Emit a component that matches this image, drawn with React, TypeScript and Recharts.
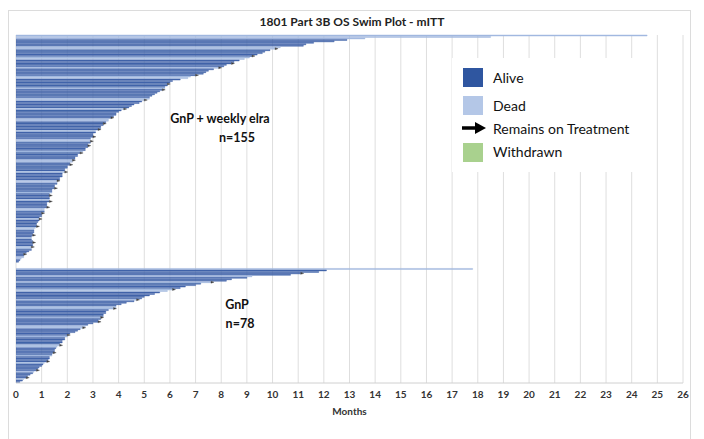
import { BarChart, Bar, XAxis, YAxis, CartesianGrid, Cell, LabelList } from 'recharts';

// months on study, one value per patient (top to bottom)
const gnpElraMonths = [
  24.6, 18.5, 13.6, 12.9, 12.4, 11.6, 11.3, 11.2, 10.3, 10.1,
  9.9, 9.7, 9.6, 9.4, 9.2, 9.1, 8.9, 8.7, 8.5, 8.4,
  8.2, 8.1, 7.9, 7.7, 7.5, 7.4, 7.3, 7.0, 6.8, 6.7,
  6.4, 6.1, 6.0, 5.9, 5.9, 5.8, 5.8, 5.7, 5.6, 5.5,
  5.4, 5.3, 5.2, 5.2, 5.0, 4.9, 4.8, 4.6, 4.5, 4.4,
  4.2, 4.1, 4.0, 3.9, 3.9, 3.8, 3.7, 3.6, 3.6, 3.5,
  3.4, 3.4, 3.3, 3.3, 3.2, 3.1, 3.1, 3.0, 3.0, 3.0,
  2.9, 2.9, 2.9, 2.9, 2.8, 2.8, 2.8, 2.7, 2.7, 2.6,
  2.5, 2.4, 2.4, 2.3, 2.3, 2.2, 2.2, 2.1, 2.1, 2.0,
  2.0, 1.9, 1.9, 1.9, 1.8, 1.8, 1.8, 1.7, 1.7, 1.6,
  1.6, 1.6, 1.5, 1.5, 1.5, 1.4, 1.4, 1.4, 1.3, 1.3,
  1.3, 1.3, 1.3, 1.3, 1.2, 1.2, 1.2, 1.2, 1.1, 1.1,
  1.1, 1.0, 1.0, 1.0, 0.9, 0.9, 0.9, 0.85, 0.8, 0.8,
  0.8, 0.75, 0.7, 0.7, 0.7, 0.65, 0.65, 0.6, 0.6, 0.6,
  0.65, 0.65, 0.65, 0.65, 0.6, 0.6, 0.6, 0.5, 0.4, 0.3,
  0.3, 0.3, 0.2, 0.15, 0.1,
];

const gnpMonths = [
  17.8, 12.1, 11.8, 11.1, 10.7, 9.2, 9.0, 8.4, 8.2, 7.6,
  7.2, 7.0, 6.6, 6.4, 6.1, 5.9, 5.6, 5.4, 5.2, 5.0,
  4.9, 4.7, 4.6, 4.3, 4.1, 3.9, 3.9, 3.8, 3.6, 3.5,
  3.5, 3.4, 3.4, 3.3, 3.3, 3.2, 3.2, 3.0, 2.8, 2.7,
  2.6, 2.5, 2.4, 2.3, 2.1, 2.0, 2.0, 1.9, 1.9, 1.8,
  1.8, 1.7, 1.7, 1.6, 1.55, 1.5, 1.5, 1.45, 1.4, 1.4,
  1.3, 1.3, 1.25, 1.2, 1.1, 1.05, 1.0, 0.9, 0.85, 0.8,
  0.7, 0.65, 0.55, 0.45, 0.4, 0.3, 0.25, 0.15,
];

// A = alive, D = dead
const gnpElraStatus = (
  'DDDAAAAADD' + 'AAAAADDAAA' + 'AADAAAAADD' + 'AAAAAADAAA' +
  'AAADDAAAAA' + 'DAAAAAADDA' + 'AAAAADAAAA' + 'ADDAAAAAAD' +
  'AAAAADDAAA' + 'AAADAAAAAD' + 'DAAAAAADAA' + 'AADAAAAADD' +
  'AAAAADAAAA' + 'ADDAAAAADA' + 'AAAADDAAAA' + 'ADDAA'
).split('');

const gnpStatus = (
  'DAAAADAAAD' + 'AAAADDAAAA' + 'ADAAAADDAA' + 'AAADAAAAAD' +
  'DAAAAADAAA' + 'AADDAAAAAD' + 'AAAADAAAAA' + 'DAAAADAA'
).split('');

// rows that still carry the "remains on treatment" arrow
const gnpElraOnTx = [9, 14, 19, 22, 27, 33, 37, 44, 50, 56, 60, 64, 69, 72, 75, 80, 85, 88, 93, 99, 104, 109, 113, 117, 121, 125, 130, 136, 141, 144, 149];
const gnpOnTx = [3, 9, 14, 21, 27, 33, 36, 40, 45, 52, 57, 63, 69, 74];

const monthTicks = Array.from({ length: 27 }, (_, i) => i);

const colors = { A: '#4264aa', D: '#a3b9e0', withdrawn: '#a9d18e' };

const rows = [
  ...gnpElraMonths.map((m, i) => ({ id: `e${i}`, months: m, status: gnpElraStatus[i], onTx: gnpElraOnTx.includes(i) ? 1 : 0 })),
  ...[0, 1, 2, 3].map((i) => ({ id: `gap${i}`, months: null, status: 'D', onTx: 0 })),
  ...gnpMonths.map((m, i) => ({ id: `g${i}`, months: m, status: gnpStatus[i], onTx: gnpOnTx.includes(i) ? 1 : 0 })),
];

const font = 'Lato, "Open Sans", sans-serif';

const Arrow = (props: any) => {
  const { x, y, width, height, value } = props;
  if (!value) return null;
  const ex = x + width;
  const cy = y + height / 2;
  return <path d={`M${ex},${cy - 1} L${ex + 3},${cy} L${ex},${cy + 1} Z`} fill="#333" stroke="#555" strokeWidth={0.4} />;
};

export default function App() {
  return (
    <div style={{ position: 'fixed', left: 0, top: 0, width: 704, height: 439, background: '#fff', fontFamily: font, overflow: 'hidden' }}>
      <div style={{ position: 'absolute', left: 8, top: 10, width: 681, height: 440, border: '1px solid #dcdcdc' }} />
      <div style={{ position: 'absolute', left: 0, width: 704, top: 14, textAlign: 'center', fontSize: 12, fontWeight: 700, color: '#222' }}>
        1801 Part 3B OS Swim Plot - mITT
      </div>
      <div style={{ position: 'absolute', left: 0, top: 0 }}>
        <BarChart
          width={704}
          height={439}
          data={rows}
          layout="vertical"
          margin={{ top: 35, right: 21, left: 16, bottom: 24 }}
          barCategoryGap={0}
        >
          <CartesianGrid horizontal={false} stroke="#dedede" />
          <XAxis
            type="number"
            domain={[0, 26]}
            ticks={monthTicks}
            interval={0}
            allowDataOverflow
            height={32}
            tickLine={false}
            axisLine={{ stroke: '#d0d0d0' }}
            tick={{ fontSize: 10, fontWeight: 700, fill: '#333', fontFamily: font }}
            label={{ value: 'Months', position: 'insideBottom', offset: 0, fontSize: 10, fontWeight: 700, fill: '#333', fontFamily: font }}
          />
          <YAxis type="category" dataKey="id" hide />
          <Bar dataKey="months" isAnimationActive={false}>
            {rows.map((r) => {
              const c = colors[r.status as 'A' | 'D'];
              return <Cell key={r.id} fill={c} stroke={c} strokeWidth={0.45} />;
            })}
            <LabelList dataKey="onTx" content={Arrow} />
          </Bar>
        </BarChart>
      </div>

      <div style={{ position: 'absolute', left: 160, width: 120, top: 109, textAlign: 'center', fontSize: 12.5, fontWeight: 700, color: '#111', lineHeight: '19px' }}>
        GnP + weekly elra<br />
        <span style={{ marginLeft: 34 }}>n=155</span>
      </div>
      <div style={{ position: 'absolute', left: 200, width: 80, top: 295, textAlign: 'center', fontSize: 12.5, fontWeight: 700, color: '#111', lineHeight: '19px' }}>
        <span style={{ marginRight: 6 }}>GnP</span><br />
        n=78
      </div>

      <div style={{ position: 'absolute', left: 452, top: 58, width: 198, height: 114, background: '#fff', fontSize: 14, color: '#111' }}>
        <div style={{ position: 'absolute', left: 11, top: 10, width: 20, height: 19, background: '#2f56a0' }} />
        <div style={{ position: 'absolute', left: 41, top: 10, lineHeight: '19px' }}>Alive</div>
        <div style={{ position: 'absolute', left: 11, top: 38, width: 20, height: 19, background: '#b4c7e7' }} />
        <div style={{ position: 'absolute', left: 41, top: 38, lineHeight: '19px' }}>Dead</div>
        <svg style={{ position: 'absolute', left: 9, top: 63 }} width={26} height={14}>
          <line x1={1} y1={7} x2={16} y2={7} stroke="#000" strokeWidth={3.5} />
          <path d="M14,1 L25,7 L14,13 Z" fill="#000" />
        </svg>
        <div style={{ position: 'absolute', left: 41, top: 61, lineHeight: '19px' }}>Remains on Treatment</div>
        <div style={{ position: 'absolute', left: 11, top: 85, width: 20, height: 19, background: colors.withdrawn }} />
        <div style={{ position: 'absolute', left: 41, top: 84, lineHeight: '19px' }}>Withdrawn</div>
      </div>
    </div>
  );
}
